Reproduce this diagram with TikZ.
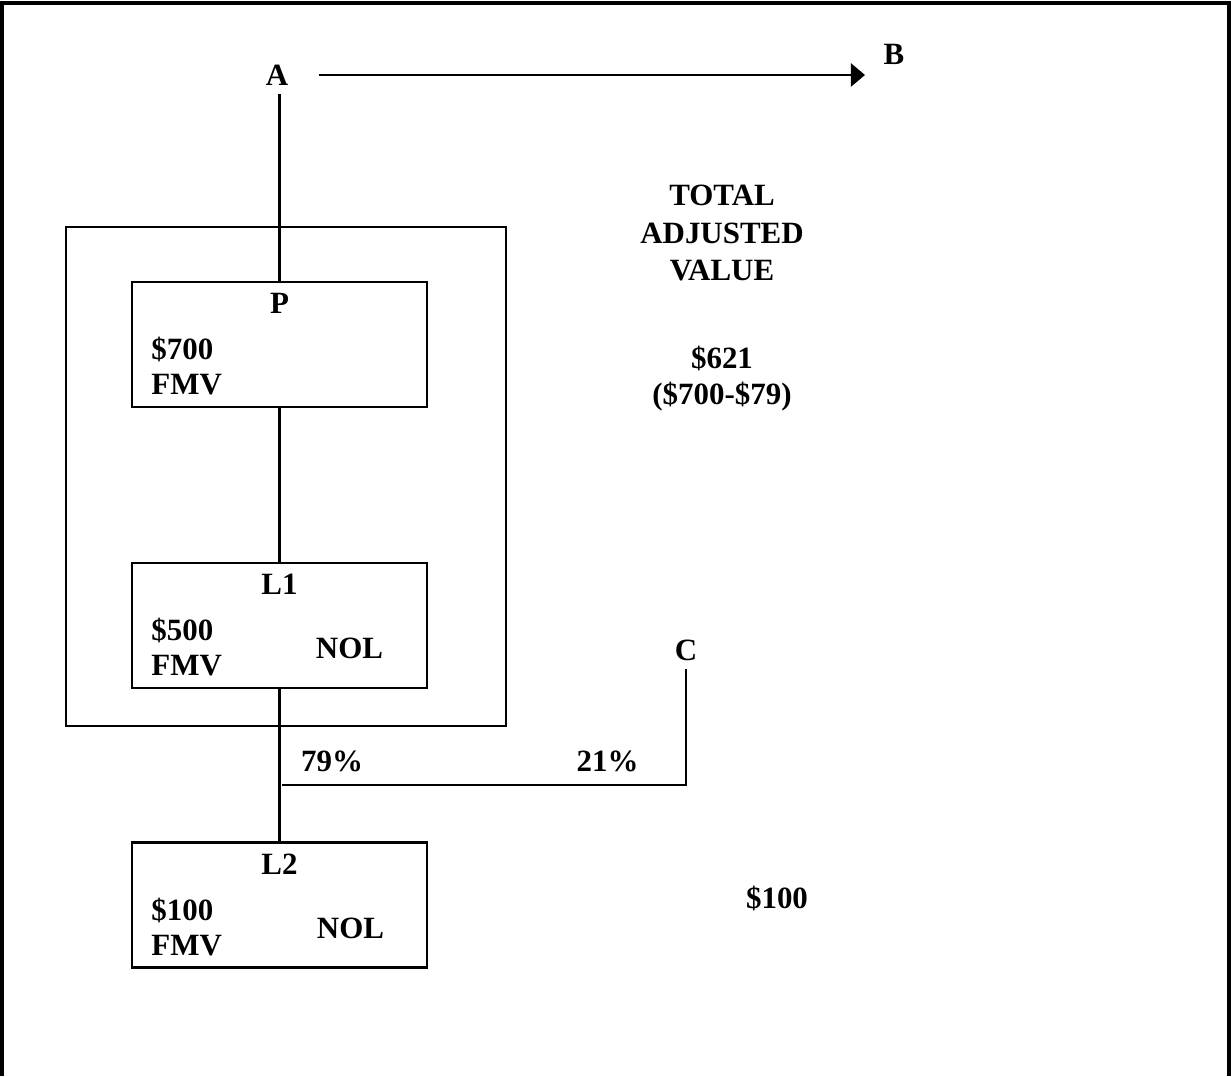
\documentclass[tikz,border=0pt]{standalone}
\usepackage{fontspec}
\setmainfont{Liberation Serif}
\usetikzlibrary{arrows.meta,calc,positioning}
\tikzset{
    mybox/.style={draw=black,line width=0.7pt,minimum width=2.95cm,minimum height=1.25cm,inner sep=0pt},
    mygroup/.style={draw=black,line width=0.7pt,minimum width=4.4cm,minimum height=4.99cm,inner sep=0pt},
    myedge/.style={line width=0.7pt,draw=black},
    myframe/.style={line width=0.9pt,draw=black},
    every node/.style={font=\fontsize{8.8pt}{10.3pt}\selectfont\bfseries,inner sep=0.08cm}
}

\begin{document}
\begin{tikzpicture}[x=0.01cm,y=-0.01cm]
  \useasboundingbox (0,0) rectangle (1231,1076);
  \draw[myframe] (2,1076) -- (2,3) -- (1229,3) -- (1229,1076);

  % group around P and L1
  \node[mygroup] (grp) at (286,476.5) {};

  \foreach \nm/\yc/\val in {P/344.5/700,L1/625.5/500,L2/905/100}{
    \node[mybox] (\nm) at (279.5,\yc) {};
    \node[anchor=base] (\nm-t) at ($(\nm.north)+(0,33)$) {\nm};
    \node[anchor=base west] (\nm-v) at ($(\nm.north west)+(12,79)$) {\$\val};
    \node[anchor=base west] (\nm-f) at ($(\nm.north west)+(12,114)$) {FMV};
  }
  \node[anchor=base] (L1-n) at ($(L1.north)+(70,97)$) {NOL};
  \node[anchor=base] (L2-n) at ($(L2.north)+(71,97)$) {NOL};

  % owners
  \node (A) at (277,75) {A};
  \node (B) at (894,54.5) {B};
  \node (C) at (686,650) {C};
  \draw[myedge,-{Triangle[length=1.4mm,width=2.3mm]},shorten <=0.22cm,shorten >=0.1cm]
    (A.east) -- (A.east -| B.west);
  \draw[myedge] (A.south -| P.north) -- (P.north);
  \draw[myedge] (P.south) -- (L1.north);
  \draw[myedge] (L1.south) -- (L2.north);
  \coordinate (split) at (282,785);
  \draw[myedge] (split) -| (C.south);
  \node[anchor=base] (p79) at (332,771) {79\%};
  \node[anchor=base] (p21) at (607.5,771) {21\%};

  % values
  \node[anchor=base] (tav1) at (722,205.7) {TOTAL};
  \node[anchor=base] (tav2) at (722,243.3) {ADJUSTED};
  \node[anchor=base] (tav3) at (722,280) {VALUE};
  \node[anchor=base] (valP) at (722,368) {\$621};
  \node[anchor=base] (valPx) at (722,404) {(\$700-\$79)};
  \node[anchor=base] (valL2) at (777,908) {\$100};
\end{tikzpicture}
\end{document}
